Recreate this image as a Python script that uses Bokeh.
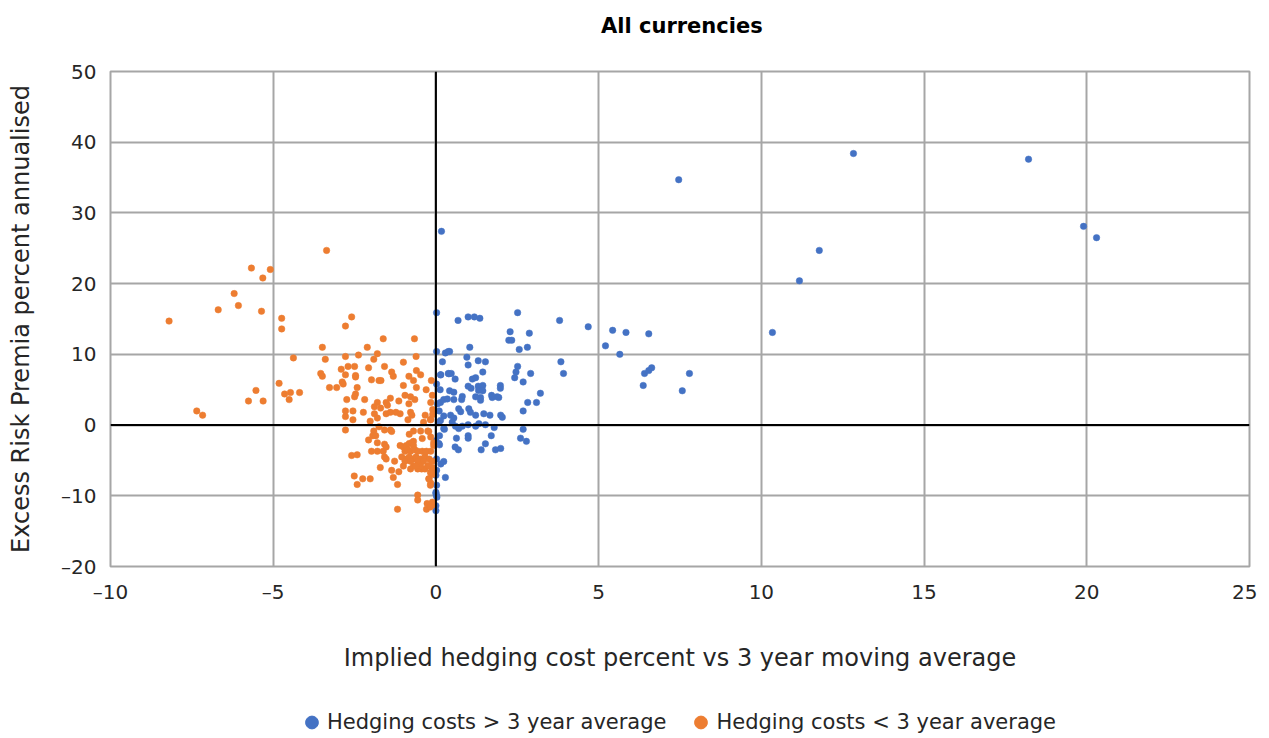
from bokeh.plotting import figure
from bokeh.models import Range1d, Span, Legend, LegendItem, FixedTicker, Label
from bokeh.layouts import column
from bokeh.embed import file_html
from bokeh.resources import INLINE

TITLE = "All currencies"
X_LABEL = "Implied hedging cost percent vs 3 year moving average"
Y_LABEL = "Excess Risk Premia percent annualised"
SERIES = ["Hedging costs > 3 year average", "Hedging costs < 3 year average"]
X_TICKS = [-10, -5, 0, 5, 10, 15, 20, 25]
Y_TICKS = [-20, -10, 0, 10, 20, 30, 40, 50]

above_pts = [
    (7.46, 34.7), (12.83, 38.4), (18.21, 37.6), (19.9, 28.1), (20.3, 26.5), (11.78, 24.7),
    (11.17, 20.4), (10.34, 13.1), (0.17, 27.4), (0.02, 15.9),
    (3.80, 14.8), (4.68, 13.9), (5.43, 13.4), (5.84, 13.1), (6.54, 12.9), (5.21, 11.2),
    (5.65, 10.0), (3.84, 8.95), (3.92, 7.3), (3.21, 4.5), (6.41, 7.3), (6.54, 7.7),
    (6.63, 8.1), (6.37, 5.6), (7.79, 7.3), (7.57, 4.85),
    (0.68, 14.8), (0.99, 15.3), (1.18, 15.3), (1.35, 15.1), (2.51, 15.9), (2.28, 13.2),
    (2.87, 13.0), (2.24, 12.0), (2.33, 12.0), (2.56, 10.7), (2.81, 11.0), (1.04, 11.0),
    (0.02, 10.4), (0.29, 10.2), (0.38, 10.4), (0.42, 10.4), (0.20, 8.95), (0.95, 9.6),
    (0.99, 8.5), (1.30, 9.1), (1.52, 8.95), (2.51, 8.3), (2.46, 7.5), (2.42, 6.7),
    (2.91, 7.3), (2.68, 6.1), (1.44, 7.5), (0.15, 7.1), (0.38, 7.3), (0.47, 7.3),
    (0.59, 6.5), (1.12, 6.5), (1.22, 6.7), (0.02, 5.8), (0.13, 5.0), (0.99, 5.5),
    (1.08, 5.2), (1.30, 5.5), (1.44, 5.6), (1.31, 4.9), (1.44, 4.85), (1.98, 5.6),
    (1.98, 5.2), (0.42, 4.85), (0.55, 4.65), (1.71, 4.2), (1.88, 4.0), (0.81, 4.05),
    (1.22, 4.0), (1.37, 3.9),
    (0.14, 3.2), (0.24, 3.6), (0.35, 3.7), (0.55, 3.6), (0.79, 3.6), (1.37, 3.5),
    (1.73, 3.9), (1.93, 3.9), (2.82, 3.2), (3.09, 3.2), (2.68, 2.0), (0.24, 1.3),
    (0.45, 1.4), (0.55, 1.0), (0.70, 2.3), (0.76, 1.9), (1.01, 2.3), (1.06, 1.8),
    (1.22, 1.4), (1.47, 1.6), (1.66, 1.4), (1.99, 1.4), (2.04, 1.1), (0.09, 0.4),
    (0.14, 0.65), (0.50, 0.4), (0.60, -0.15), (0.70, -0.5), (0.81, -0.15), (0.99, 0.05),
    (1.22, -0.15), (1.32, 0.2), (1.52, 0.05), (1.79, -0.35), (0.24, -0.5), (0.11, -1.5),
    (0.09, -2.6), (0.63, -1.85), (0.99, -1.5), (0.99, -1.85), (1.70, -1.5), (2.68, -0.6),
    (2.60, -1.85), (2.78, -2.3), (1.52, -2.65), (1.39, -3.5), (0.59, -3.1), (0.69, -3.5),
    (1.83, -3.5), (1.99, -3.3), (0.15, -5.5), (0.24, -5.15), (0.29, -7.4),
    (0.02, -6.4), (0.02, -8.5), (0.0, -9.7), (0.02, -10.0), (0.03, -10.2), (0.0, -12.1),
    (0.02, -4.8), (0.0, -2.2), (0.11, -2.8), (0.26, -0.6), (0.14, 7.1), (0.40, 7.25),
    (0.1, 2.0), (0.05, 3.0), (0.0, -7.1), (0.0, -9.5), (0.0, -11.4),
]

below_pts = [
    (-8.2, 14.7), (-7.35, 2.0), (-7.17, 1.4), (-6.69, 16.3), (-6.2, 18.6), (-6.07, 16.9),
    (-5.67, 22.2), (-5.32, 20.8), (-5.09, 22.0), (-5.36, 16.1), (-5.76, 3.4), (-5.53, 4.9),
    (-5.31, 3.4), (-4.74, 15.1), (-4.74, 13.6), (-4.38, 9.5), (-4.82, 5.9), (-4.65, 4.4),
    (-4.47, 4.6), (-4.51, 3.6), (-4.19, 4.6), (-3.36, 24.7), (-3.49, 11.0), (-3.40, 9.3),
    (-3.54, 7.3), (-3.49, 6.9), (-3.27, 5.3), (-3.05, 5.3),
    (-2.59, 15.3), (-2.78, 14.0), (-1.62, 12.2), (-0.66, 12.2), (-2.11, 11.0), (-2.78, 9.7),
    (-2.38, 9.9), (-1.80, 10.1), (-1.91, 9.3), (-0.61, 9.7), (-1.0, 8.9), (-2.70, 8.3),
    (-2.50, 8.3), (-2.07, 8.1), (-1.58, 8.3), (-2.91, 7.9), (-2.78, 7.1), (-2.47, 7.0),
    (-2.47, 6.8), (-1.36, 7.5), (-1.31, 6.9), (-0.60, 7.7), (-0.83, 6.9), (-0.47, 7.1),
    (-1.98, 6.4), (-1.75, 6.3), (-1.69, 6.3), (-0.69, 6.3), (-2.88, 6.1), (-2.85, 5.8),
    (-2.42, 5.3), (-1.0, 5.6), (-0.60, 5.3), (-0.14, 6.3), (-0.30, 5.0), (-0.11, 4.2),
    (-2.47, 4.4), (-2.50, 4.0), (-2.74, 3.6), (-2.19, 3.6), (-0.95, 4.2), (-0.78, 4.0),
    (-0.65, 3.6), (-0.83, 3.0), (-1.40, 3.8), (-1.53, 3.2), (-1.49, 2.8), (-1.14, 3.4),
    (-1.80, 3.2), (-1.89, 2.6), (-1.70, 2.4), (-0.16, 3.2), (-2.78, 2.0), (-2.55, 2.0),
    (-2.23, 1.8), (-2.78, 1.2), (-2.55, 0.75), (-1.89, 1.6), (-1.80, 1.0), (-1.53, 1.6),
    (-1.40, 1.8), (-1.23, 1.8), (-1.10, 1.6), (-0.78, 1.8), (-0.74, 1.4), (-0.33, 1.4),
    (-0.38, 0.4), (-0.16, 0.75), (-0.86, 0.75), (-2.02, 0.55), (-1.75, -0.25), (-2.78, -0.7),
    (-1.58, -0.7), (-1.40, -0.7), (-1.36, -0.9), (-1.91, -0.85), (-1.94, -1.5), (-1.85, -1.5),
    (-2.07, -2.1), (-1.80, -2.5), (-1.58, -2.7), (-1.53, -3.1), (-0.69, -0.85), (-0.47, -0.85),
    (-0.82, -1.3), (-0.25, -0.85), (-0.16, -1.7), (-0.42, -1.9), (-0.69, -2.3), (-1.98, -3.7),
    (-1.80, -3.7), (-1.62, -3.7), (-1.58, -4.5), (-1.53, -4.8), (-2.59, -4.3), (-2.42, -4.2),
    (-1.27, -5.1), (-1.71, -6.0), (-1.0, -5.8), (-1.36, -6.4), (-1.31, -7.4), (-1.14, -6.6),
    (-2.51, -7.2), (-2.25, -7.6), (-2.02, -7.6), (-2.42, -8.4), (-1.18, -8.4), (-0.56, -9.9),
    (-0.56, -10.6), (-1.18, -11.9), (-0.29, -11.9), (-0.11, -11.3), (-0.11, -10.9), (-0.21, -7.6),
    (-0.11, -7.0), (-0.16, -8.2), (-0.11, -6.0), (-0.11, -6.4), (-0.44, -6.2), (-0.34, -6.2),
    (-0.56, -6.2), (-0.78, -6.2), (-0.69, -5.8),
    (-1.10, -2.9), (-1.0, -3.1), (-0.91, -2.9), (-0.82, -2.6), (-0.74, -2.5), (-0.69, -2.9),
    (-0.95, -3.7), (-0.86, -3.5), (-0.78, -3.7), (-0.65, -3.5), (-0.56, -3.7), (-0.42, -3.7),
    (-0.29, -3.7), (-0.16, -3.7), (-1.05, -4.5), (-0.91, -4.8), (-0.82, -4.5), (-0.69, -4.8),
    (-0.61, -4.5), (-0.47, -4.8), (-0.34, -4.5), (-0.21, -4.8), (-0.11, -5.1), (-0.95, -5.1),
    (-0.78, -5.1), (-0.56, -5.1), (-0.38, -5.1), (-0.25, -5.8), (-0.47, -5.8), (-0.61, -5.8),
    (-0.07, -2.5), (-0.07, -2.9),
    (-0.17, 0.8), (-0.22, -0.9), (-0.32, -3.8), (-0.22, -5.7), (-0.17, -6.7), (-0.22, -7.6),
    (-0.17, -8.5), (-0.27, -11.1), (-0.17, -11.6), (-0.1, 2.2), (-0.1, 1.5),
]

above_x = [p[0] for p in above_pts]
above_y = [p[1] for p in above_pts]
below_x = [p[0] for p in below_pts]
below_y = [p[1] for p in below_pts]

BLUE = "#4472C4"
ORANGE = "#ED7D31"
GRID = "#A6A6A6"
TEXT = "#262626"
FONT = "DejaVu Sans"
W = 1253
TITLE_H = 46

# ---- title strip ----
tt = figure(width=W, height=TITLE_H, output_backend="svg", toolbar_location=None,
            x_range=Range1d(0, W), y_range=Range1d(0, TITLE_H),
            min_border_left=0, min_border_right=0, min_border_top=0, min_border_bottom=0)
tt.axis.visible = False
tt.grid.visible = False
tt.outline_line_color = None
tt.add_layout(Label(x=633, y=TITLE_H - 25, text=TITLE, text_align="center",
                    text_baseline="middle", text_font=FONT, text_font_size="21px",
                    text_font_style="bold", text_color="#000000"))

# ---- main chart ----
p = figure(frame_width=1139, frame_height=495, output_backend="svg", toolbar_location=None,
           x_range=Range1d(-10, 25), y_range=Range1d(-20, 50),
           min_border_left=102, min_border_right=12, min_border_top=71 - TITLE_H,
           min_border_bottom=140)

p.outline_line_color = GRID
p.outline_line_width = 2

for ax in (p.xaxis, p.yaxis):
    ax.axis_line_color = None
    ax.major_tick_line_color = None
    ax.minor_tick_line_color = None
    ax.major_label_text_font = FONT
    ax.major_label_text_font_size = "20px"
    ax.major_label_text_color = TEXT
    ax.axis_label_text_font = FONT
    ax.axis_label_text_font_size = "24px"
    ax.axis_label_text_font_style = "normal"
    ax.axis_label_text_color = TEXT

p.xaxis.ticker = FixedTicker(ticks=X_TICKS)
p.yaxis.ticker = FixedTicker(ticks=Y_TICKS)
p.xaxis.major_label_overrides = {t: (("\u2013" + str(-t)) if t < 0 else str(t)) for t in X_TICKS}
p.yaxis.major_label_overrides = {t: (("\u2013" + str(-t)) if t < 0 else str(t)) for t in Y_TICKS}
p.xaxis.axis_label = X_LABEL
p.yaxis.axis_label = Y_LABEL
p.xaxis.major_label_standoff = 7
p.yaxis.major_label_standoff = 8
p.xaxis.axis_label_standoff = 37
p.yaxis.axis_label_standoff = 23

p.grid.grid_line_color = GRID
p.grid.grid_line_width = 2
p.xgrid.ticker = FixedTicker(ticks=X_TICKS)
p.ygrid.ticker = FixedTicker(ticks=Y_TICKS)

p.add_layout(Span(location=0, dimension="height", line_color="black", line_width=2))
p.add_layout(Span(location=0, dimension="width", line_color="black", line_width=2))

p.scatter(above_x, above_y, size=6.5, fill_color=BLUE, line_color=BLUE, line_width=0.5)
p.scatter(below_x, below_y, size=6.5, fill_color=ORANGE, line_color=ORANGE, line_width=0.5)

# ---- legend strip (series drawn out of view, only the legend keys show) ----
LEG_H = 32
lg = figure(width=W, height=LEG_H, output_backend="svg", toolbar_location=None,
            x_range=Range1d(100, 101), y_range=Range1d(100, 101),
            min_border_left=110, min_border_right=0, min_border_top=0, min_border_bottom=0)
lg.axis.visible = False
lg.grid.visible = False
lg.outline_line_color = None
k1 = lg.scatter(above_x, above_y, fill_color=BLUE, line_color=BLUE)
k2 = lg.scatter(below_x, below_y, fill_color=ORANGE, line_color=ORANGE)
legend = Legend(items=[LegendItem(label=SERIES[0], renderers=[k1]),
                       LegendItem(label=SERIES[1], renderers=[k2])],
                orientation="horizontal", location="center",
                label_text_font=FONT, label_text_font_size="21px", label_text_color=TEXT,
                glyph_width=32, glyph_height=32, label_standoff=0, spacing=18,
                padding=0, margin=0, border_line_color=None, background_fill_alpha=0)
lg.add_layout(legend, "center")

layout = column(tt, p, lg, spacing=0)
open("out.html", "w").write(file_html(layout, INLINE))
